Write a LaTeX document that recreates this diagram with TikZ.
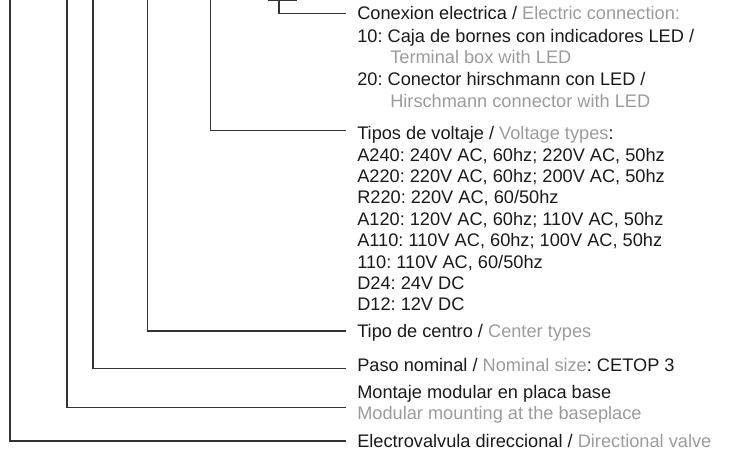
\documentclass[tikz,border=0pt]{standalone}
\usepackage{fontspec}
\setmainfont{Liberation Sans}
\definecolor{CodeBlack}{HTML}{1A1A1A}
\definecolor{CodeGray}{HTML}{9B9B9B}
\definecolor{CodeLine}{HTML}{333333}
\usetikzlibrary{positioning}
\frenchspacing

\begin{document}
\begin{tikzpicture}[x=0.75pt, y=-0.75pt,
    every node/.style={font=\fontsize{13.65}{16}\selectfont, color=CodeBlack, anchor=base west, inner sep=0pt},
    conn/.style={draw=CodeLine, line width=1pt}]
  \useasboundingbox (0,0) rectangle (730,449);

  % top ends of the code lines
  \coordinate (top1) at (10,0);
  \coordinate (top2) at (67,0);
  \coordinate (top3) at (93,0);
  \coordinate (top4) at (147.5,0);
  \coordinate (top5) at (210.5,0);
  \coordinate (top6) at (279,0);
  \coordinate (stubL) at (268,0.4);
  \coordinate (stubR) at (297,0.4);

  % Conexion electrica
  \node (conex) at (357,20) {Conexion electrica / \textcolor{CodeGray}{Electric connection:}};
  \node (c10) at (357,43) {10: Caja de bornes con indicadores LED /};
  \node[color=CodeGray] (c10en) at (390,64) {Terminal box with LED};
  \node (c20) at (357,86) {20: Conector hirschmann con LED /};
  \node[color=CodeGray] (c20en) at (390,107.5) {Hirschmann connector with LED};

  % Tipos de voltaje
  \node (volt) at (357,139) {Tipos de voltaje / \textcolor{CodeGray}{Voltage types}:};
  \foreach \i/\t in {0/{A240: 240V AC, 60hz; 220V AC, 50hz},
                     1/{A220: 220V AC, 60hz; 200V AC, 50hz},
                     2/{R220: 220V AC, 60/50hz},
                     3/{A120: 120V AC, 60hz; 110V AC, 50hz},
                     4/{A110: 110V AC, 60hz; 100V AC, 50hz},
                     5/{110: 110V AC, 60/50hz},
                     6/{D24: 24V DC},
                     7/{D12: 12V DC}} {
    \node (v\i) at (357, 161+\i*21.4) {\t};
  }

  % remaining positions
  \node (centro) at (357,337.5) {Tipo de centro / \textcolor{CodeGray}{Center types}};
  \node (paso) at (357,371.5) {Paso nominal / \textcolor{CodeGray}{Nominal size}: CETOP 3};
  \node (montaje) at (357,398.5) {Montaje modular en placa base};
  \node[color=CodeGray] (modular) at (357,419) {Modular mounting at the baseplace};
  \node (electro) at (357,447) {Electrovalvula direccional / \textcolor{CodeGray}{Directional valve}};

  % connectors
  \draw[conn] (stubL) -- (stubR);
  \draw[conn] (top6) |- ([shift={(-11,-6.7)}]conex.base west);
  \draw[conn] (top5) |- ([shift={(-11,-8.5)}]volt.base west);
  \draw[conn] (top4) |- ([shift={(-11,-6.5)}]centro.base west);
  \draw[conn] (top3) |- ([shift={(-11,-3.2)}]paso.base west);
  \draw[conn] (top2) |- ([shift={(-11,-11.3)}]modular.base west);
  \draw[conn] (top1) |- ([shift={(-11,-6)}]electro.base west);
\end{tikzpicture}
\end{document}
